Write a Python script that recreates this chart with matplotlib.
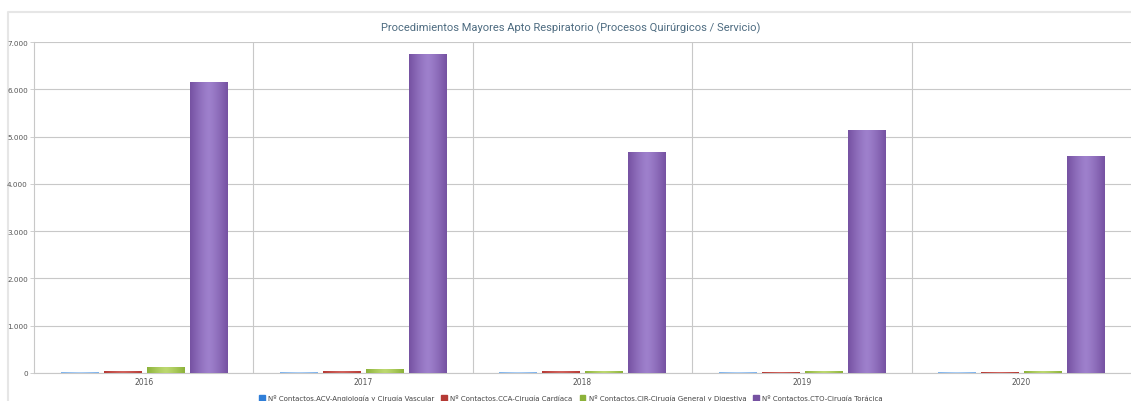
import numpy as np
import matplotlib.pyplot as plt
from matplotlib.colors import LinearSegmentedColormap
from matplotlib.patches import Rectangle
from matplotlib.lines import Line2D
from matplotlib.ticker import FuncFormatter

years = ['2016', '2017', '2018', '2019', '2020']
series_names = [
    'Nº Contactos.ACV-Angiología y Cirugía Vascular',
    'Nº Contactos.CCA-Cirugía Cardíaca',
    'Nº Contactos.CIR-Cirugía General y Digestiva',
    'Nº Contactos.CTO-Cirugía Torácica',
]
acv = [20, 20, 18, 18, 18]
cca = [40, 40, 35, 30, 25]
cir = [130, 95, 35, 45, 35]
cto = [6150, 6750, 4670, 5140, 4590]
values = [acv, cca, cir, cto]

# edge colour, centre colour for the shaded bars
shades = [
    ('#7cb2ec', '#a9cdf5'),
    ('#b53a35', '#d0625c'),
    ('#8cb23a', '#bcd86f'),
    ('#7652a2', '#9e80cc'),
]
legend_colors = ['#2f7ed8', '#b53a35', '#8cb23a', '#7652a2']

fig = plt.figure(figsize=(11.31, 4.02), dpi=100)
ax = fig.add_axes([34 / 1131, 1 - 374 / 402, 1 - 34 / 1131, (374 - 43) / 402])

x = np.arange(len(years))
width = 0.169
pitch = 0.196
grad = np.abs(np.linspace(-1, 1, 64)) ** 1.3
grad = grad.reshape(1, -1)

handles = []
for i, (vals, (c_edge, c_mid)) in enumerate(zip(values, shades)):
    pos = x + (i - 1.5) * pitch
    bars = ax.bar(pos, vals, width, color=c_edge, edgecolor='none', zorder=3)
    cmap = LinearSegmentedColormap.from_list('s%d' % i, [c_mid, c_edge])
    for b in bars:
        x0, h = b.get_x(), b.get_height()
        im = ax.imshow(grad, cmap=cmap, aspect='auto', zorder=3.5,
                       extent=(x0, x0 + width, 0, h), interpolation='bicubic')
        im.set_clip_path(b)
    handles.append(Rectangle((0, 0), 1, 1, color=legend_colors[i]))

ax.set_xlim(-0.5, len(years) - 0.5)
ax.set_ylim(0, 7000)
ax.set_yticks(range(0, 7001, 1000))
ax.yaxis.set_major_formatter(FuncFormatter(lambda v, p: f'{int(v):,}'.replace(',', '.')))
ax.set_xticks(x)
ax.set_xticklabels(years)

ax.grid(axis='y', color='#c8c8c8', linewidth=0.8, zorder=0)
for b in np.arange(0.5, len(years) - 0.5, 1):
    ax.axvline(b, color='#c8c8c8', linewidth=0.8, zorder=0)

for s in ['top', 'right']:
    ax.spines[s].set_visible(False)
ax.spines['left'].set_color('#c8c8c8')
ax.spines['bottom'].set_color('#c8c8c8')
ax.tick_params(axis='y', labelsize=5.2, labelcolor='#555555', color='#c8c8c8',
               length=3, width=0.6, direction='out', pad=1.5)
ax.tick_params(axis='x', labelsize=5.5, labelcolor='#555555', length=0, pad=3)

fig.text(571 / 1131, 1 - 28 / 402,
         'Procedimientos Mayores Apto Respiratorio (Procesos Quirúrgicos / Servicio)',
         ha='center', va='center', fontsize=8, color='#4d6b80', family='Roboto')

# outer frame (top and left edges only visible)
fig.lines.append(Line2D([8 / 1131, 8 / 1131, 1], [0, 1 - 13 / 402, 1 - 13 / 402],
                        transform=fig.transFigure, color='#e6e6e6', linewidth=1.5,
                        zorder=-1))

fig.legend(handles, series_names, loc='center', bbox_to_anchor=(571 / 1131, 1 - 399 / 402),
           ncol=4, frameon=False, fontsize=5.0, handlelength=0.8, handleheight=0.8,
           handletextpad=0.5, columnspacing=1.0, labelcolor='#444444',
           borderpad=0, borderaxespad=0)

fig.savefig('out.png', dpi=100)
